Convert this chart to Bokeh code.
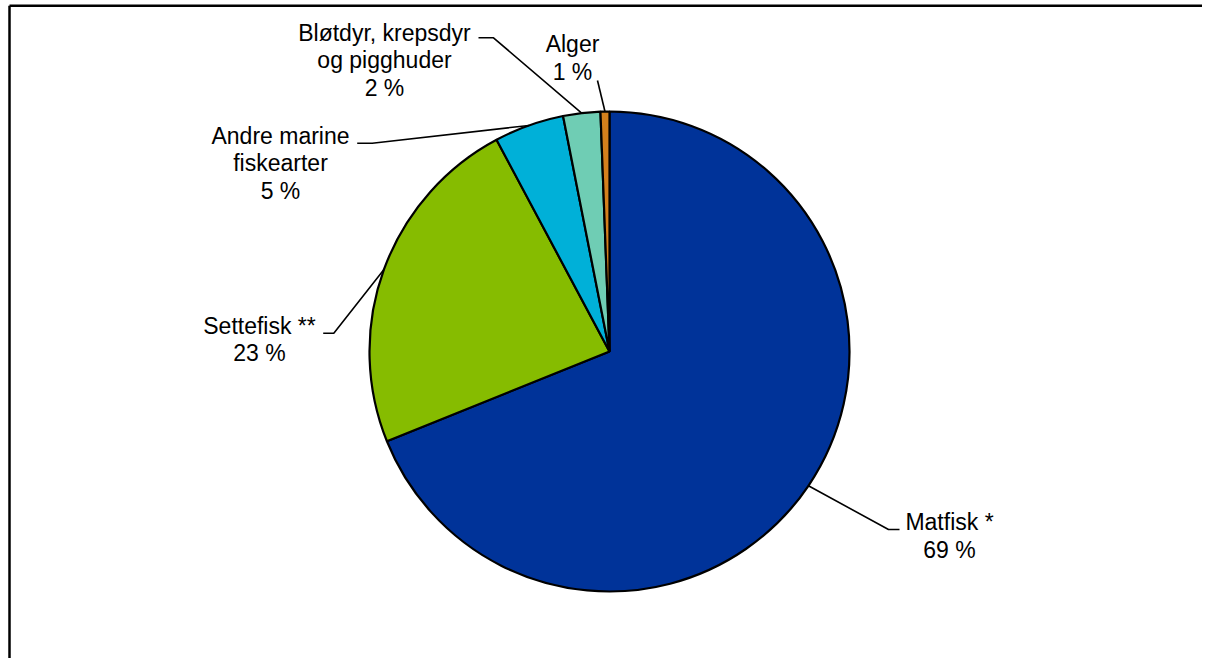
import math
from bokeh.plotting import figure
from bokeh.models import Range1d
from bokeh.core.properties import value
from bokeh.embed import file_html
from bokeh.resources import INLINE

# ---- data ----
categories = ["Matfisk *", "Settefisk **", "Andre marine fiskearter",
              "Bløtdyr, krepsdyr og pigghuder", "Alger"]
values = [68.9, 23.3, 4.7, 2.5, 0.6]
label_lines = [["Matfisk *"], ["Settefisk **"], ["Andre marine", "fiskearter"],
               ["Bløtdyr, krepsdyr", "og pigghuder"], ["Alger"]]
colors = ["#003399", "#86BC00", "#00B0D8", "#6FCDB4", "#D4801C"]

# ---- layout (reference pixel coordinates) ----
W, H = 1202, 658
CX, CY, R = 609, 351, 240
FONT = "Liberation Sans"
FS = 23
LH = 27.6
label_pos = [(949, 521.7), (259, 325), (280, 135), (384, 32), (572, 43.5)]
leader_knee = [[(899, 529), (888, 529)],
               [(322.7, 332.7), (333.3, 332.7)],
               [(356.7, 142.7), (371.7, 142.7)],
               [(478, 37.3), (493, 37.3)],
               [(597, 80)]]


def Y(ry):
    return H - ry


p = figure(width=W, height=H, output_backend="svg", toolbar_location=None,
           x_range=Range1d(0, W), y_range=Range1d(0, H),
           min_border=0)
p.axis.visible = False
p.grid.visible = False
p.outline_line_color = None
p.background_fill_color = "white"
p.border_fill_color = "white"

total = sum(values)
cum = 0.0
starts, ends, mids = [], [], []
for v in values:
    f0 = cum / total
    cum += v
    f1 = cum / total
    starts.append(math.pi / 2 - 2 * math.pi * f0)
    ends.append(math.pi / 2 - 2 * math.pi * f1)
    mids.append((f0 + f1) / 2)

p.wedge(x=[CX] * len(values), y=[Y(CY)] * len(values), radius=R,
        start_angle=starts, end_angle=ends, direction="clock",
        fill_color=colors, line_color="black", line_width=2.2)

# leaders
xs, ys = [], []
for knee, m in zip(leader_knee, mids):
    a = 2 * math.pi * m
    ex = CX + R * math.sin(a)
    ey = CY - R * math.cos(a)
    pts = knee + [(ex, ey)]
    xs.append([q[0] for q in pts])
    ys.append([Y(q[1]) for q in pts])
p.multi_line(xs=xs, ys=ys, line_color="black", line_width=1.6)

# labels
tx, ty, tt = [], [], []
for lines, v, (lx, ly) in zip(label_lines, values, label_pos):
    allines = lines + [f"{round(v)} %"]
    for i, s in enumerate(allines):
        tx.append(lx)
        ty.append(Y(ly + i * LH))
        tt.append(s)
p.text(x=tx, y=ty, text=tt, text_font=value(FONT), text_font_size=f"{FS}px",
       text_align="center", text_baseline="middle", text_color="black")

# frame (top and left edges, continuing off-page)
p.segment(x0=[9, 9], y0=[Y(5.3), Y(5.3)], x1=[W + 50, 9], y1=[Y(5.3), -50],
          line_color="black", line_width=2.5)

open("out.html", "w").write(file_html(p, INLINE))
